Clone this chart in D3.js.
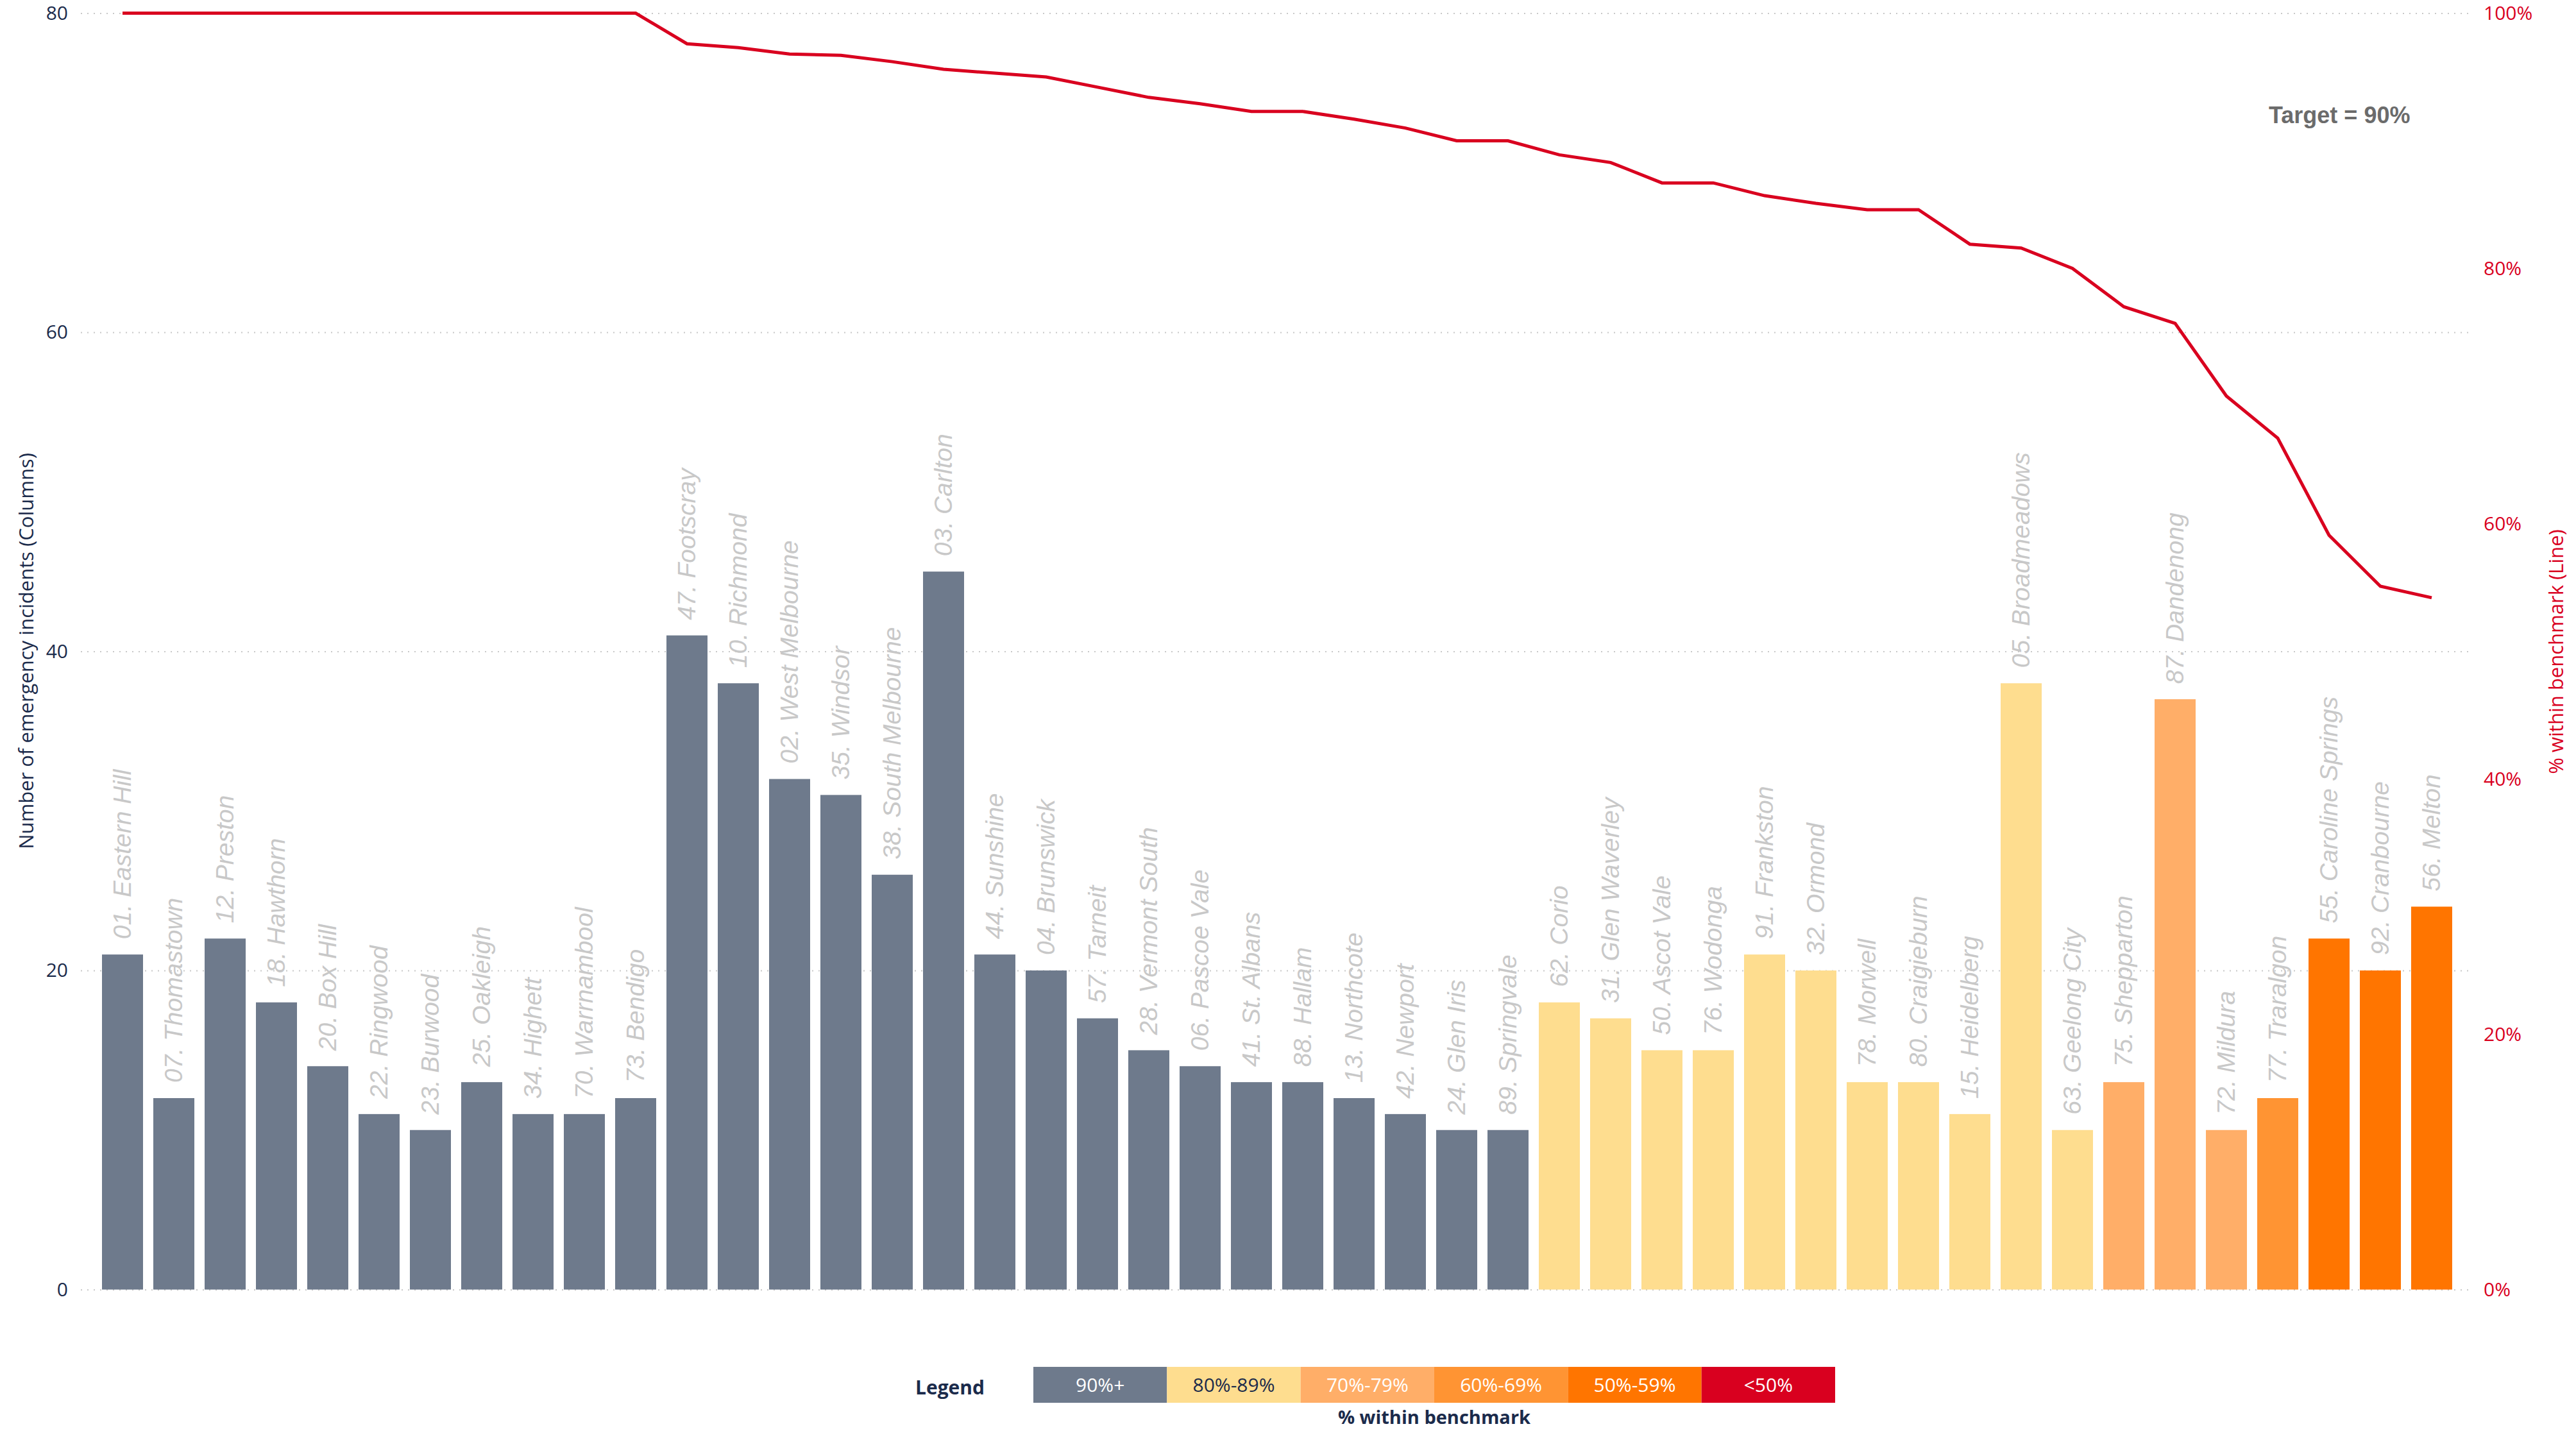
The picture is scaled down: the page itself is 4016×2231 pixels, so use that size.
<!DOCTYPE html>
<html>
<head>
<meta charset="utf-8">
<script src="https://cdn.jsdelivr.net/npm/d3@7"></script>
<style>
  html, body { margin: 0; padding: 0; background: #ffffff; }
  svg { display: block; }
</style>
</head>
<body>
<script>
// ---------- DATA ----------
const categories = [
  "01. Eastern Hill", "07. Thomastown", "12. Preston", "18. Hawthorn", "20. Box Hill",
  "22. Ringwood", "23. Burwood", "25. Oakleigh", "34. Highett", "70. Warrnambool",
  "73. Bendigo", "47. Footscray", "10. Richmond", "02. West Melbourne", "35. Windsor",
  "38. South Melbourne", "03. Carlton", "44. Sunshine", "04. Brunswick", "57. Tarneit",
  "28. Vermont South", "06. Pascoe Vale", "41. St. Albans", "88. Hallam", "13. Northcote",
  "42. Newport", "24. Glen Iris", "89. Springvale", "62. Corio", "31. Glen Waverley",
  "50. Ascot Vale", "76. Wodonga", "91. Frankston", "32. Ormond", "78. Morwell",
  "80. Craigieburn", "15. Heidelberg", "05. Broadmeadows", "63. Geelong City", "75. Shepparton",
  "87. Dandenong", "72. Mildura", "77. Traralgon", "55. Caroline Springs", "92. Cranbourne",
  "56. Melton"
];
const incidents = [
  21, 12, 22, 18, 14, 11, 10, 13, 11, 11,
  12, 41, 38, 32, 31, 26, 45, 21, 20, 17,
  15, 14, 13, 13, 12, 11, 10, 10, 18, 17,
  15, 15, 21, 20, 13, 13, 11, 38, 10, 13,
  37, 10, 12, 22, 20, 24
];
const pctWithin = [
  1.00, 1.00, 1.00, 1.00, 1.00, 1.00, 1.00, 1.00, 1.00, 1.00,
  1.00, 0.976, 0.973, 0.968, 0.967, 0.962, 0.956, 0.953, 0.950, 0.942,
  0.934, 0.929, 0.923, 0.923, 0.917, 0.910, 0.90, 0.90, 0.889, 0.883,
  0.867, 0.867, 0.857, 0.851, 0.846, 0.846, 0.819, 0.816, 0.80, 0.770,
  0.757, 0.70, 0.667, 0.591, 0.551, 0.542
];
const leftTicks = [0, 20, 40, 60, 80];
const rightTicks = [0, 0.2, 0.4, 0.6, 0.8, 1.0];
const legendLabels = ["90%+", "80%-89%", "70%-79%", "60%-69%", "50%-59%", "<50%"];
const legendColors = ["#6E7A8C", "#FEDD8F", "#FFAE68", "#FF9433", "#FF7500", "#D9001F"];
const legendTextColors = ["#ffffff", "#1B2B4B", "#ffffff", "#ffffff", "#ffffff", "#ffffff"];
const bandThresholds = [0.5, 0.6, 0.7, 0.8, 0.9];

// ---------- LAYOUT ----------
const W = 4016, H = 2231;
const plotLeft = 126, plotRight = 3852;
const yTop = 20.5, yBottom = 2010.5;
const navy = "#1B2B4B", red = "#D9001F";
const sansFont = "'Open Sans', 'Noto Sans', sans-serif";

const svg = d3.select("body").append("svg")
  .attr("width", W).attr("height", H)
  .attr("viewBox", `0 0 ${W} ${H}`);

const x = d3.scaleBand().domain(categories).range([151, 3831])
  .paddingInner(0.2).paddingOuter(0.1);
const yL = d3.scaleLinear().domain([0, 80]).range([yBottom, yTop]);
const yR = d3.scaleLinear().domain([0, 1]).range([yBottom, yTop]);
const color = d3.scaleThreshold().domain(bandThresholds)
  .range(legendColors.slice().reverse());

// left axis with gridlines
const gL = svg.append("g").attr("transform", `translate(${plotLeft},0)`)
  .call(d3.axisLeft(yL).tickValues(leftTicks).tickSize(-(plotRight - plotLeft)).tickPadding(20));
gL.select(".domain").remove();
gL.selectAll(".tick line").attr("stroke", "#C8C8C8").attr("stroke-width", 2)
  .attr("stroke-dasharray", "2,8");
gL.selectAll(".tick text").attr("fill", navy).attr("font-size", 30)
  .attr("font-family", sansFont);

// right axis
const gR = svg.append("g").attr("transform", `translate(${plotRight},0)`)
  .call(d3.axisRight(yR).tickValues(rightTicks).tickSize(0).tickPadding(20).tickFormat(d3.format(".0%")));
gR.select(".domain").remove();
gR.selectAll(".tick text").attr("fill", red).attr("font-size", 30)
  .attr("font-family", sansFont);

// bars
svg.append("g").selectAll("rect").data(categories).join("rect")
  .attr("x", d => x(d))
  .attr("width", x.bandwidth())
  .attr("y", (d, i) => yL(incidents[i]))
  .attr("height", (d, i) => yL(0) - yL(incidents[i]))
  .attr("fill", (d, i) => color(pctWithin[i]));

// category labels
svg.append("g").selectAll("text").data(categories).join("text")
  .attr("transform", (d, i) => `translate(${x(d) + x.bandwidth() / 2 + 13},${yL(incidents[i]) - 24}) rotate(-90)`)
  .attr("text-anchor", "start")
  .attr("font-family", "'Liberation Sans', Arial, sans-serif")
  .attr("font-style", "italic")
  .attr("font-size", 39)
  .attr("fill", "#C8C8C8")
  .text(d => d);

// line
const line = d3.line()
  .x((d, i) => x(categories[i]) + x.bandwidth() / 2)
  .y(d => yR(d));
svg.append("path").datum(pctWithin)
  .attr("d", line)
  .attr("fill", "none")
  .attr("stroke", red)
  .attr("stroke-width", 5);

// target text
svg.append("text")
  .attr("x", 3537).attr("y", 192)
  .attr("font-family", "'Liberation Sans', Arial, sans-serif")
  .attr("font-weight", "bold")
  .attr("font-size", 36)
  .attr("fill", "#6B6B6B")
  .text("Target = 90%");

// axis titles
svg.append("text")
  .attr("transform", `translate(52,1015) rotate(-90)`)
  .attr("text-anchor", "middle")
  .attr("font-family", sansFont)
  .attr("font-size", 31)
  .attr("fill", navy)
  .text("Number of emergency incidents (Columns)");

svg.append("text")
  .attr("transform", `translate(3996,1016) rotate(-90)`)
  .attr("text-anchor", "middle")
  .attr("font-family", sansFont)
  .attr("font-size", 31)
  .attr("fill", red)
  .text("% within benchmark (Line)");

// legend
const legX = d3.scaleBand().domain(legendLabels).range([1611, 2861]);
const legTop = 2131, legH = 56;
const gLeg = svg.append("g");
gLeg.selectAll("rect").data(legendLabels).join("rect")
  .attr("x", d => legX(d)).attr("y", legTop)
  .attr("width", legX.bandwidth()).attr("height", legH)
  .attr("fill", (d, i) => legendColors[i]);
gLeg.selectAll("text.lab").data(legendLabels).join("text")
  .attr("class", "lab")
  .attr("x", d => legX(d) + legX.bandwidth() / 2)
  .attr("y", legTop + legH / 2)
  .attr("dy", "0.35em")
  .attr("text-anchor", "middle")
  .attr("font-family", sansFont)
  .attr("font-size", 30)
  .attr("fill", (d, i) => legendTextColors[i])
  .text(d => d);
gLeg.append("text")
  .attr("x", 1427).attr("y", legTop + legH / 2 + 4).attr("dy", "0.35em")
  .attr("font-family", sansFont).attr("font-weight", "bold")
  .attr("font-size", 30).attr("fill", navy)
  .text("Legend");
gLeg.append("text")
  .attr("x", (1611 + 2861) / 2).attr("y", 2210).attr("dy", "0.35em")
  .attr("text-anchor", "middle")
  .attr("font-family", sansFont).attr("font-weight", "bold")
  .attr("font-size", 29).attr("fill", navy)
  .text("% within benchmark");
</script>
</body>
</html>
